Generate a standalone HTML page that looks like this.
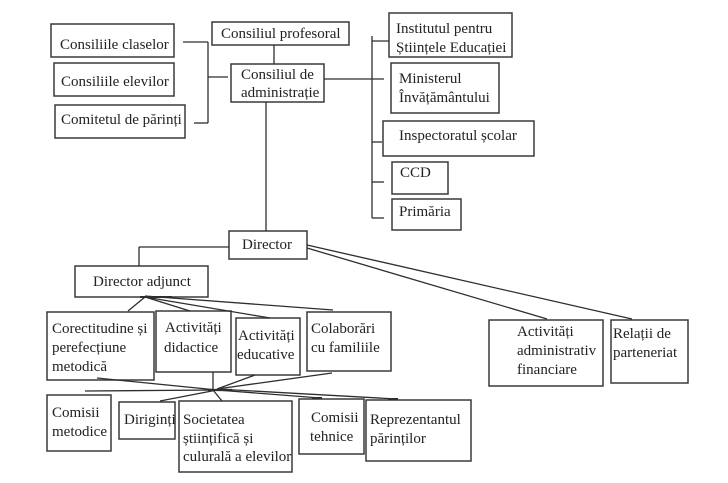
<!DOCTYPE html>
<html>
<head>
<meta charset="utf-8">
<style>
  html, body { margin: 0; padding: 0; background: #fff; }
  svg { display: block; }
  text { font-family: "Liberation Serif", "DejaVu Serif", serif; font-size: 15px; fill: #222; }
</style>
</head>
<body>
<svg width="728" height="483" viewBox="0 0 728 483" xmlns="http://www.w3.org/2000/svg">
  <rect x="0" y="0" width="728" height="483" fill="#fff"/>

  <!-- Boxes -->
  <g fill="none" stroke="#3a3a3a" stroke-width="1.5">
    <rect x="51" y="24" width="123" height="33"/>
    <rect x="54" y="63" width="120" height="33"/>
    <rect x="55" y="105" width="130" height="33"/>
    <rect x="212" y="22" width="137" height="23"/>
    <rect x="231" y="64" width="93" height="38"/>

    <rect x="389" y="13" width="123" height="44"/>
    <rect x="391" y="63" width="108" height="50"/>
    <rect x="383" y="121" width="151" height="35"/>
    <rect x="392" y="162" width="56" height="32"/>
    <rect x="392" y="199" width="69" height="31"/>

    <rect x="229" y="231" width="78" height="28"/>
    <rect x="75" y="266" width="133" height="31"/>

    <rect x="47" y="312" width="107" height="68"/>
    <rect x="156" y="311" width="75" height="61"/>
    <rect x="236" y="318" width="64" height="57"/>
    <rect x="307" y="312" width="84" height="59"/>

    <rect x="489" y="320" width="114" height="66"/>
    <rect x="611" y="320" width="77" height="63"/>

    <rect x="47" y="395" width="64" height="56"/>
    <rect x="119" y="402" width="56" height="37"/>
    <rect x="179" y="401" width="113" height="71"/>
    <rect x="299" y="399" width="65" height="55"/>
    <rect x="366" y="400" width="105" height="61"/>
  </g>

  <!-- Connectors -->
  <g fill="none" stroke="#2e2e2e" stroke-width="1.3">
    <!-- left bracket -->
    <line x1="183" y1="42" x2="208" y2="42"/>
    <line x1="208" y1="42" x2="208" y2="123"/>
    <line x1="194" y1="123" x2="208" y2="123"/>
    <line x1="208" y1="77" x2="228" y2="77"/>
    <!-- profesoral to admin -->
    <line x1="274" y1="45" x2="274" y2="64"/>
    <!-- admin right to spine -->
    <line x1="324" y1="79" x2="384" y2="79"/>
    <line x1="372" y1="36" x2="372" y2="218"/>
    <line x1="372" y1="41" x2="389" y2="41"/>
    <line x1="372" y1="142" x2="382" y2="142"/>
    <line x1="372" y1="182" x2="384" y2="182"/>
    <line x1="372" y1="218" x2="384" y2="218"/>
    <!-- admin down to director -->
    <line x1="266" y1="102" x2="266" y2="231"/>
    <!-- director to adjunct -->
    <line x1="229" y1="247" x2="139" y2="247"/>
    <line x1="139" y1="247" x2="139" y2="266"/>
    <!-- director to right boxes -->
    <line x1="307" y1="245" x2="632" y2="319"/>
    <line x1="307" y1="248" x2="547" y2="319"/>
    <!-- upper fan -->
    <line x1="145" y1="297" x2="128" y2="311"/>
    <line x1="145" y1="297" x2="190" y2="311"/>
    <line x1="145" y1="297" x2="270" y2="318"/>
    <line x1="145" y1="296" x2="333" y2="310"/>
    <line x1="140" y1="297" x2="172" y2="297" stroke-width="2"/>
    <!-- lower fan -->
    <line x1="97" y1="378" x2="217" y2="390"/>
    <line x1="85" y1="391" x2="217" y2="390"/>
    <line x1="213" y1="372" x2="213" y2="390"/>
    <line x1="255" y1="375" x2="217" y2="389"/>
    <line x1="332" y1="373" x2="217" y2="389"/>
    <line x1="217" y1="390" x2="160" y2="401"/>
    <line x1="213" y1="390" x2="222" y2="401"/>
    <line x1="217" y1="390" x2="320" y2="398"/>
    <line x1="217" y1="389" x2="397" y2="399"/>
    <line x1="208" y1="390" x2="232" y2="390" stroke-width="2.2"/>
    <line x1="312" y1="398" x2="322" y2="398" stroke-width="2"/>
    <line x1="388" y1="399" x2="398" y2="399" stroke-width="2"/>
  </g>

  <!-- Text -->
  <text x="60" y="49">Consiliile claselor</text>
  <text x="61" y="86">Consiliile elevilor</text>
  <text x="61" y="124">Comitetul de părinți</text>
  <text x="221" y="38">Consiliul profesoral</text>
  <text x="241" y="79">Consiliul de</text>
  <text x="241" y="97">administrație</text>

  <text x="396" y="33">Institutul pentru</text>
  <text x="396" y="52">Științele Educației</text>
  <text x="399" y="83">Ministerul</text>
  <text x="399" y="102">Învățământului</text>
  <text x="399" y="140">Inspectoratul școlar</text>
  <text x="400" y="177">CCD</text>
  <text x="399" y="216">Primăria</text>

  <text x="242" y="249">Director</text>
  <text x="93" y="286">Director adjunct</text>

  <text x="52" y="333">Corectitudine și</text>
  <text x="52" y="352">perefecțiune</text>
  <text x="52" y="371">metodică</text>
  <text x="165" y="332">Activități</text>
  <text x="164" y="352">didactice</text>
  <text x="238" y="340">Activități</text>
  <text x="237" y="359">educative</text>
  <text x="311" y="333">Colaborări</text>
  <text x="311" y="352">cu familiile</text>

  <text x="517" y="336">Activități</text>
  <text x="517" y="355">administrativ</text>
  <text x="517" y="374">financiare</text>
  <text x="613" y="338">Relații de</text>
  <text x="613" y="357">parteneriat</text>

  <text x="52" y="417">Comisii</text>
  <text x="52" y="436">metodice</text>
  <text x="124" y="424">Diriginți</text>
  <text x="183" y="424">Societatea</text>
  <text x="183" y="443">științifică și</text>
  <text x="183" y="461">culurală a elevilor</text>
  <text x="311" y="422">Comisii</text>
  <text x="310" y="441">tehnice</text>
  <text x="370" y="424">Reprezentantul</text>
  <text x="370" y="443">părinților</text>
</svg>
</body>
</html>
